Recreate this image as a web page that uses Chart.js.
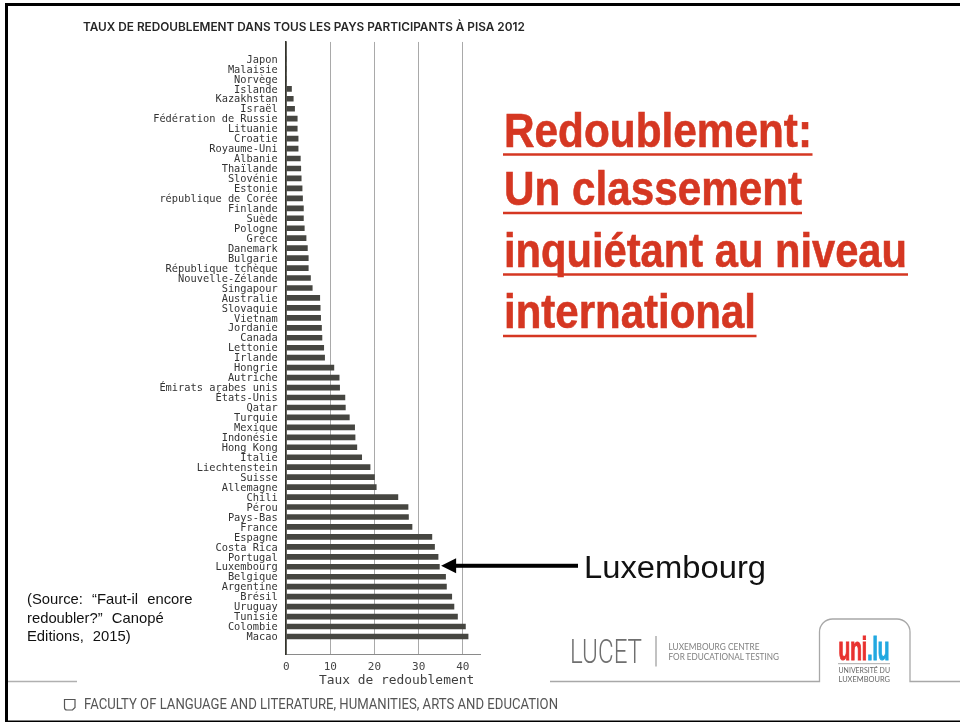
<!DOCTYPE html>
<html lang="fr">
<head>
<meta charset="utf-8">
<title>Redoublement</title>
<script src="https://cdn.jsdelivr.net/npm/chart.js@4/dist/chart.umd.min.js"></script>
<style>
html,body{margin:0;padding:0;background:#fff;overflow:hidden}
#stage{position:relative;width:960px;height:722px;overflow:hidden;background:#fff}
#chart{position:absolute;left:83px;top:14px}
#over{position:absolute;left:0;top:0;pointer-events:none}
#source{position:absolute;left:27px;top:590px;font:14.8px/18.5px "Liberation Sans",sans-serif;color:#111;word-spacing:5px;white-space:pre}
</style>
</head>
<body>
<div id="stage">
<canvas id="chart" width="517" height="676"></canvas>
<svg id="over" width="960" height="722" xmlns="http://www.w3.org/2000/svg">
  <!-- slide frame -->
  <rect x="5" y="3" width="955" height="3" fill="#000"/>
  <rect x="5" y="3" width="3" height="719" fill="#000"/>
  <rect x="5" y="720.5" width="955" height="2" fill="#000"/>
  <!-- footer rule and logo tab -->
  <path d="M8 681.5H77" stroke="#b0b0b0" stroke-width="1.5" fill="none"/>
  <path d="M550 681.5H819.5V632a13 13 0 0 1 13-13H897a13 13 0 0 1 13 13V681.5H960" stroke="#a8a8a8" stroke-width="1.3" fill="none"/>
  <!-- red heading -->
  <g font-family="Liberation Sans" font-weight="700" font-size="49" fill="#d53722" stroke="#d53722" stroke-width="0.6">
    <text x="504" y="146.7" textLength="308" lengthAdjust="spacingAndGlyphs">Redoublement:</text>
    <text x="504" y="205.3" textLength="298" lengthAdjust="spacingAndGlyphs">Un classement</text>
    <text x="504" y="266.7" textLength="403" lengthAdjust="spacingAndGlyphs">inquiétant au niveau</text>
    <text x="504" y="328.3" textLength="252" lengthAdjust="spacingAndGlyphs">international</text>
  </g>
  <g stroke="#d53722" stroke-width="2.4">
    <path d="M503 154.5H812.5"/><path d="M503 213H802"/><path d="M503 274.5H908"/><path d="M503 336H756.5"/>
  </g>
  <text x="584" y="578" font-family="Liberation Sans" font-size="31" fill="#111" textLength="182" lengthAdjust="spacingAndGlyphs">Luxembourg</text>
  <!-- LUCET -->
  <text x="570" y="663" font-family="Roboto" font-weight="300" font-size="33" fill="#6f6f6f" textLength="72" lengthAdjust="spacingAndGlyphs">LUCET</text>
  <path d="M656 636V666.5" stroke="#999" stroke-width="1.2"/>
  <g font-family="Lato" font-size="8.6" fill="#808080">
    <text x="668.5" y="649.5" textLength="91" lengthAdjust="spacingAndGlyphs">LUXEMBOURG CENTRE</text>
    <text x="668.5" y="659.5" textLength="110.5" lengthAdjust="spacingAndGlyphs">FOR EDUCATIONAL TESTING</text>
  </g>
  <!-- uni.lu -->
  <text x="838.5" y="660" font-family="Liberation Sans" font-weight="700" font-size="33" textLength="51" lengthAdjust="spacingAndGlyphs" stroke-width="1.1"><tspan fill="#e8312f" stroke="#e8312f">uni</tspan><tspan fill="#22a8e0" stroke="#22a8e0">.lu</tspan></text>
  <path d="M838 663.7H890" stroke="#aaa" stroke-width="1"/>
  <g font-family="Lato" font-size="7.6" fill="#666">
    <text x="838.5" y="673" textLength="51.5" lengthAdjust="spacingAndGlyphs">UNIVERSITÉ DU</text>
    <text x="838.5" y="682" textLength="51.5" lengthAdjust="spacingAndGlyphs">LUXEMBOURG</text>
  </g>
  <!-- footer -->
  <path d="M64.5 699.5H75V707.5L72.5 710H67A2.5 2.5 0 0 1 64.5 707.5Z" fill="none" stroke="#555" stroke-width="1.2"/>
  <text x="84" y="709" font-family="Roboto" font-size="14.6" fill="#555" textLength="474" lengthAdjust="spacingAndGlyphs">FACULTY OF LANGUAGE AND LITERATURE, HUMANITIES, ARTS AND EDUCATION</text>
</svg>
<div id="source">(Source: “Faut-il encore
redoubler?” Canopé
Editions, 2015)</div>
</div>
<script>
const chartTitle = "TAUX DE REDOUBLEMENT DANS TOUS LES PAYS PARTICIPANTS À PISA 2012";
const xAxisTitle = "Taux de redoublement";
const categories = [
  "Japon","Malaisie","Norvège","Islande","Kazakhstan","Israël","Fédération de Russie","Lituanie","Croatie","Royaume-Uni",
  "Albanie","Thaïlande","Slovénie","Estonie","république de Corée","Finlande","Suède","Pologne","Grèce","Danemark",
  "Bulgarie","République tchèque","Nouvelle-Zélande","Singapour","Australie","Slovaquie","Vietnam","Jordanie","Canada","Lettonie",
  "Irlande","Hongrie","Autriche","Émirats arabes unis","États-Unis","Qatar","Turquie","Mexique","Indonésie","Hong Kong",
  "Italie","Liechtenstein","Suisse","Allemagne","Chili","Pérou","Pays-Bas","France","Espagne","Costa Rica",
  "Portugal","Luxembourg","Belgique","Argentine","Brésil","Uruguay","Tunisie","Colombie","Macao"
];
const rates = [
  0,0,0,1.2,1.6,1.9,2.5,2.5,2.7,2.7,
  3.2,3.3,3.4,3.6,3.7,3.9,3.9,4.1,4.5,4.8,
  5.0,5.0,5.5,5.9,7.6,7.7,7.8,8.0,8.1,8.5,
  8.7,10.8,12.0,12.1,13.3,13.4,14.3,15.5,15.6,16.0,
  17.1,19.0,20.0,20.4,25.3,27.6,27.7,28.5,33.0,33.6,
  34.4,34.7,36.1,36.3,37.5,38.0,38.8,40.6,41.2
];
const highlighted = "Luxembourg";

const annotations = {
  id: "annotations",
  afterDraw(chart) {
    const { ctx, scales: { x, y } } = chart;
    ctx.save();
    ctx.fillStyle = "#3f3f3f";
    ctx.font = "12.9px 'DejaVu Sans Mono'";
    ctx.textAlign = "center";
    ctx.textBaseline = "middle";
    ctx.fillText(xAxisTitle, x.getPixelForValue(25), 667);
    const ay = y.getPixelForValue(categories.indexOf(highlighted)) - 1;
    const tip = x.getPixelForValue(35.1);
    ctx.fillStyle = "#000";
    ctx.fillRect(tip + 12, ay - 2, 578 - 83 - tip - 12, 4);
    ctx.beginPath();
    ctx.moveTo(tip, ay);
    ctx.lineTo(tip + 15, ay - 7.5);
    ctx.lineTo(tip + 15, ay + 7.5);
    ctx.closePath();
    ctx.fill();
    ctx.restore();
  }
};

new Chart(document.getElementById("chart"), {
  type: "bar",
  data: {
    datasets: [{
      data: categories.map((c, i) => ({ x: rates[i], y: i })),
      backgroundColor: "#464641",
      borderWidth: 0,
      barThickness: 5
    }]
  },
  plugins: [annotations],
  options: {
    indexAxis: "y",
    responsive: false,
    animation: false,
    devicePixelRatio: 1,
    plugins: {
      legend: { display: false },
      tooltip: { enabled: false },
      title: {
        display: true,
        text: chartTitle,
        align: "start",
        color: "#262626",
        font: { family: "Inter", size: 11.8, weight: "600", lineHeight: 1.2 },
        padding: { top: 5.9, bottom: 7.9 }
      }
    },
    scales: {
      x: {
        type: "linear",
        bounds: "data",
        min: 0,
        max: 43.9,
        afterFit(s) { s.height = 36; },
        afterBuildTicks(s) { s.ticks = s.ticks.filter(t => t.value % 10 === 0); },
        ticks: { stepSize: 10, includeBounds: false, maxRotation: 0, padding: 7, color: "#444", font: { family: "DejaVu Sans Mono", size: 11 } },
        grid: { color: "#a9a9a9", lineWidth: 1, drawTicks: false },
        border: { color: "#8a8a8a", width: 1 }
      },
      y: {
        type: "linear",
        bounds: "data",
        offset: false,
        reverse: true,
        min: -1.707,
        max: 59.76,
        afterFit(s) { s.width = 203.2; },
        afterBuildTicks(s) { s.ticks = categories.map((c, i) => ({ value: i + 0.1 })); },
        ticks: {
          autoSkip: false,
          includeBounds: false,
          padding: 8.5,
          color: "#333",
          font: { family: "DejaVu Sans Mono", size: 10.35 },
          callback: v => categories[Math.round(v)]
        },
        grid: { display: false, drawTicks: false, offset: false },
        border: { color: "#33332b", width: 1.6 }
      },
      rightGap: {
        axis: "y",
        type: "linear",
        position: "right",
        afterFit(s) { s.width = 120; },
        ticks: { display: false },
        grid: { display: false, drawTicks: false },
        border: { display: false }
      }
    }
  }
});
</script>
</body>
</html>
